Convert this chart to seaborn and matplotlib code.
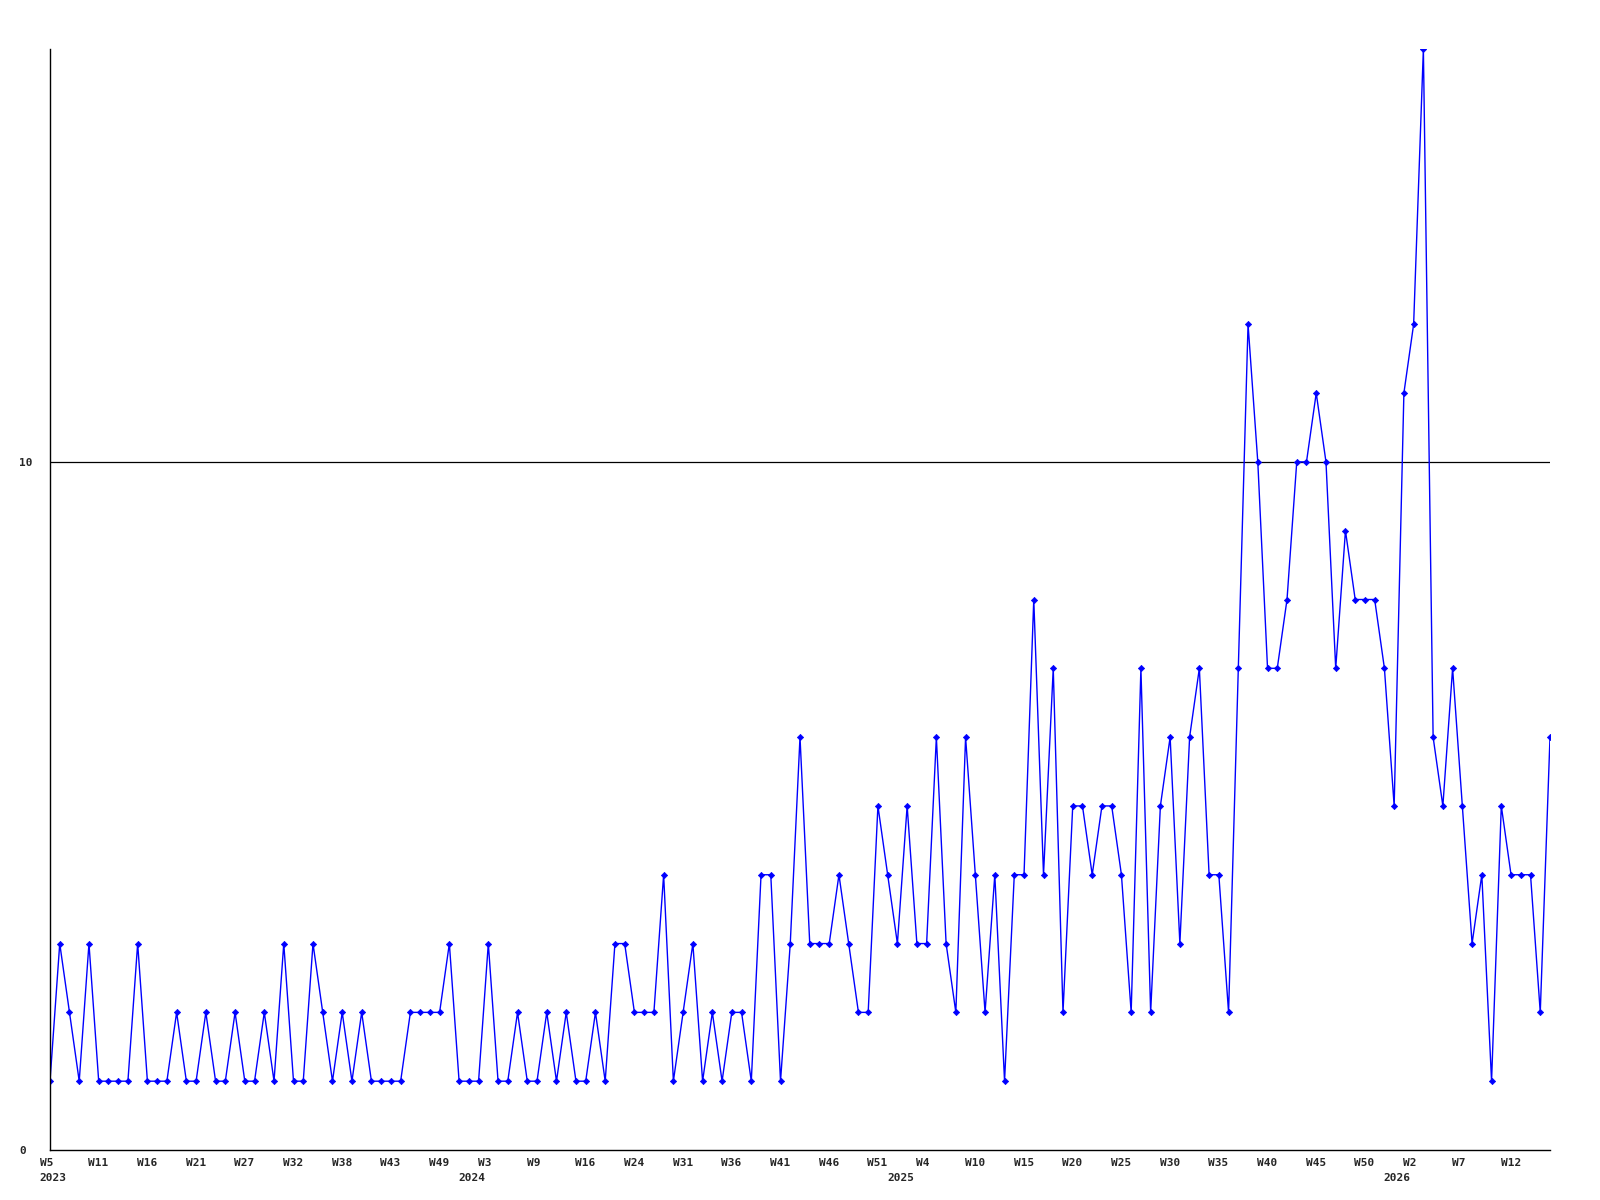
import matplotlib
matplotlib.use('Agg')
import matplotlib.pyplot as plt
import matplotlib.transforms as mtransforms
import numpy as np
import pandas as pd
import seaborn as sns

# weekly counts (one value per point)
values = [1, 3, 2, 1, 3, 1, 1, 1, 1, 3,
          1, 1, 1, 2, 1, 1, 2, 1, 1, 2,
          1, 1, 2, 1, 3, 1, 1, 3, 2, 1,
          2, 1, 2, 1, 1, 1, 1, 2, 2, 2,
          2, 3, 1, 1, 1, 3, 1, 1, 2, 1,
          1, 2, 1, 2, 1, 1, 2, 1, 3, 3,
          2, 2, 2, 4, 1, 2, 3, 1, 2, 1,
          2, 2, 1, 4, 4, 1, 3, 6, 3, 3,
          3, 4, 3, 2, 2, 5, 4, 3, 5, 3,
          3, 6, 3, 2, 6, 4, 2, 4, 1, 4,
          4, 8, 4, 7, 2, 5, 5, 4, 5, 5,
          4, 2, 7, 2, 5, 6, 3, 6, 7, 4,
          4, 2, 7, 12, 10, 7, 7, 8, 10, 10,
          11, 10, 7, 9, 8, 8, 8, 7, 5, 11,
          12, 16, 6, 5, 7, 5, 3, 4, 1, 5,
          4, 4, 4, 2, 6]

# x labels: every 5th point gets its week number
week_labels = ['W5', 'W11', 'W16', 'W21', 'W27', 'W32', 'W38', 'W43', 'W49', 'W3',
               'W9', 'W16', 'W24', 'W31', 'W36', 'W41', 'W46', 'W51', 'W4', 'W10',
               'W15', 'W20', 'W25', 'W30', 'W35', 'W40', 'W45', 'W50', 'W2', 'W7', 'W12']
week_ticks = list(range(0, 5 * len(week_labels), 5))

# year labels and the point where each year starts
years = ['2023', '2024', '2025', '2026']
year_pos = [0, 43, 87, 138]

y_ticks = [0, 10]
ref_line = 10

df = pd.DataFrame({'idx': np.arange(len(values)), 'value': values})

sns.set_style('white')
plt.rcParams['font.family'] = ['DejaVu Sans Mono', 'DejaVu Sans']

fig = plt.figure(figsize=(16, 12), dpi=100)
ax = fig.add_axes([50 / 1600, 50 / 1200, 1500 / 1600, 1101 / 1200])

sns.lineplot(data=df, x='idx', y='value', ax=ax, color='#0000ff', linewidth=1,
             marker='D', markersize=3.2, markeredgecolor='#0000ff', markeredgewidth=0.5)

ax.axhline(ref_line, color='black', linewidth=0.9, zorder=0)

ax.set_xlim(0, len(values) - 1)
ax.set_ylim(0, 16)

for side in ['top', 'right']:
    ax.spines[side].set_visible(False)
for side in ['left', 'bottom']:
    ax.spines[side].set_color('black')
    ax.spines[side].set_linewidth(1)

ax.set_xlabel('')
ax.set_ylabel('')

# x ticks, left-aligned a bit before the point
ax.set_xticks(week_ticks)
ax.set_xticklabels(week_labels, fontsize=8, fontweight='bold')
ax.tick_params(axis='x', length=0, pad=6)
shift = mtransforms.ScaledTranslation(-10.5 / 100, 0, fig.dpi_scale_trans)
for lab in ax.get_xticklabels():
    lab.set_horizontalalignment('left')
    lab.set_transform(lab.get_transform() + shift)

# y ticks
ax.set_yticks(y_ticks)
ax.set_yticklabels([str(t) for t in y_ticks], fontsize=8, fontweight='bold')
ax.tick_params(axis='y', length=0, pad=22)
for lab in ax.get_yticklabels():
    lab.set_horizontalalignment('left')

# year row below the week labels
trans = mtransforms.blended_transform_factory(ax.transData, ax.transAxes)
trans = trans + mtransforms.ScaledTranslation(-10.5 / 100, -23 / 100, fig.dpi_scale_trans)
for yr, pos in zip(years, year_pos):
    ax.text(pos, 0, yr, transform=trans, ha='left', va='top',
            fontsize=8, fontweight='bold')

fig.savefig('out.png', dpi=100)
